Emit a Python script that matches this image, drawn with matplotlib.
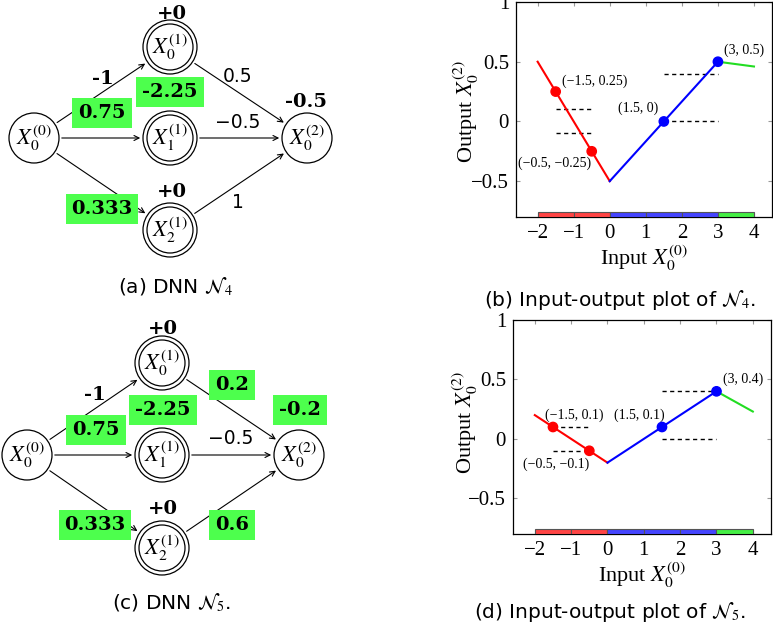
import numpy as np
import matplotlib
matplotlib.use("Agg")
import matplotlib.pyplot as plt
from matplotlib.patches import Circle, FancyArrowPatch

plt.rcParams["mathtext.fontset"] = "stix"

# ---- network N4 / N5 labels ----
node_names = [r"$X_0^{(0)}$", r"$X_0^{(1)}$", r"$X_1^{(1)}$", r"$X_2^{(1)}$", r"$X_0^{(2)}$"]
in_weights = ["-1", "", ""]            # bold weights on input edges
in_biases_n4 = ["0.75", "-2.25", "0.333"]  # green boxes (changed values)
hidden_bias = ["+0", "", "+0"]
out_weights_n4 = ["0.5", "\u22120.5", "1"]
out_bias_n4 = "-0.5"
out_weights_n5 = ["0.2", "\u22120.5", "0.6"]
out_bias_n5 = "-0.2"

# ---- input-output plots ----
seg_x = [[-2, 0], [0, 3], [3, 4]]
seg_colors = ["red", "blue", "#22dd22"]
n4_seg_y = [[0.5, -0.5], [-0.5, 0.5], [0.5, 0.46]]
n5_seg_y = [[0.2, -0.2], [-0.2, 0.4], [0.4, 0.23]]

n4_pts_x = [-1.5, -0.5, 1.5, 3]
n4_pts_y = [0.25, -0.25, 0, 0.5]
n4_pts_c = ["red", "red", "blue", "blue"]
n4_pt_labels = ["(\u22121.5, 0.25)", "(\u22120.5, \u22120.25)", "(1.5, 0)", "(3, 0.5)"]
n4_lbl_pos = [(-0.42, 0.34), (-1.53, -0.35), (0.78, 0.11), (3.72, 0.6)]

n5_pts_x = [-1.5, -0.5, 1.5, 3]
n5_pts_y = [0.1, -0.1, 0.1, 0.4]
n5_pts_c = ["red", "red", "blue", "blue"]
n5_pt_labels = ["(\u22121.5, 0.1)", "(\u22120.5, \u22120.1)", "(1.5, 0.1)", "(3, 0.4)"]
n5_lbl_pos = [(-0.92, 0.2), (-1.42, -0.21), (0.87, 0.2), (3.74, 0.5)]

# dashed bounds: (y, xmin, xmax)
n4_dash = [(0.1, -1.5, -0.5), (-0.1, -1.5, -0.5), (0, 1.5, 3), (0.4, 1.5, 3)]
n5_dash = [(0.1, -1.5, -0.5), (-0.1, -1.5, -0.5), (0.4, 1.5, 3), (0, 1.5, 3)]

bar_left = [-2, -1, 0, 1, 2, 3]
bar_colors = ["#ff4444", "#ff4444", "#4444ff", "#4444ff", "#4444ff", "#44ee44"]

GREEN = "#4dff4d"

fig = plt.figure(figsize=(7.73, 6.25), dpi=100)
dg = fig.add_axes([0, 0, 1, 1])
dg.set_xlim(0, 773)
dg.set_ylim(625, 0)
dg.axis("off")


def draw_net(nodes):
    r = 25
    for i, (cx, cy) in enumerate(nodes):
        dg.add_patch(Circle((cx, cy), r + 2 if i in (1, 2, 3) else r,
                            fill=False, lw=0.9, color="black"))
        if i in (1, 2, 3):
            dg.add_patch(Circle((cx, cy), r - 2, fill=False, lw=0.9, color="black"))
        dg.text(cx, cy, node_names[i], ha="center", va="center", fontsize=16)
    edges = [(0, 1), (0, 2), (0, 3), (1, 4), (2, 4), (3, 4)]
    for a, b in edges:
        (x1, y1), (x2, y2) = nodes[a], nodes[b]
        d = np.hypot(x2 - x1, y2 - y1)
        ux, uy = (x2 - x1) / d, (y2 - y1) / d
        ra = r + 2 if a in (1, 2, 3) else r
        rb = r + 2 if b in (1, 2, 3) else r
        dg.add_patch(FancyArrowPatch((x1 + ux * ra, y1 + uy * ra),
                                     (x2 - ux * rb, y2 - uy * rb),
                                     arrowstyle="->", mutation_scale=9,
                                     lw=0.8, color="black"))


def bold(x, y, s, box=False):
    kw = dict(ha="center", va="center", fontsize=14, fontweight="bold",
              family="DejaVu Serif")
    if box:
        kw["bbox"] = dict(boxstyle="square,pad=0.3", fc=GREEN, ec="none")
    dg.text(x, y, s, **kw)


def plain(x, y, s):
    dg.text(x, y, s, ha="center", va="center", fontsize=13.5, family="DejaVu Sans")


# (a) N4
nodes_a = [(34, 138), (170, 47), (170, 138), (170, 230), (307, 138)]
draw_net(nodes_a)
bold(172, 14, hidden_bias[0])
bold(103, 79, in_weights[0])
bold(102, 113, in_biases_n4[0], True)
bold(170, 92, in_biases_n4[1], True)
bold(102, 209, in_biases_n4[2], True)
bold(172, 192, hidden_bias[2])
bold(306, 102, out_bias_n4)
plain(238, 77, out_weights_n4[0])
plain(238, 122, out_weights_n4[1])
plain(238, 202, out_weights_n4[2])
dg.text(175, 287, r"(a) DNN $\mathcal{N}_4$", ha="center", va="center",
        fontsize=14.5, family="DejaVu Sans")

# (c) N5
nodes_c = [(27, 455), (162, 363), (162, 455), (162, 548), (299, 455)]
draw_net(nodes_c)
bold(163, 329, hidden_bias[0])
bold(95, 395, in_weights[0])
bold(96, 430, in_biases_n4[0], True)
bold(163, 410, in_biases_n4[1], True)
bold(95, 525, in_biases_n4[2], True)
bold(163, 509, hidden_bias[2])
bold(232, 385, out_weights_n5[0], True)
bold(300, 410, out_bias_n5, True)
bold(232, 525, out_weights_n5[2], True)
plain(231, 439, out_weights_n5[1])
dg.text(171, 603, r"(c) DNN $\mathcal{N}_5$.", ha="center", va="center",
        fontsize=14.5, family="DejaVu Sans")


def io_plot(rect, seg_y, px, py, pc, plabels, lpos, dashes, caption, cap_xy, ylab_xy):
    ax = fig.add_axes(rect)
    for xs, ys, c in zip(seg_x, seg_y, seg_colors):
        ax.plot(xs, ys, color=c, lw=1.5, zorder=3)
    for (y, x0, x1) in dashes:
        ax.hlines(y, x0, x1, colors="black", linestyles=(0, (3, 2.5)), lw=1, zorder=2)
    ax.scatter(px, py, c=pc, s=45, zorder=4)
    for s, (lx, ly) in zip(plabels, lpos):
        ax.text(lx, ly, s, ha="center", va="center", fontsize=10,
                family="Liberation Serif")
    ax.bar(bar_left, 0.04, width=1, bottom=-0.8, align="edge",
           color=bar_colors, edgecolor="#555555", lw=0.8, zorder=5)
    ax.set_xlim(-2.6, 4.5)
    ax.set_ylim(-0.8, 1.0)
    ax.set_xticks(range(-2, 5))
    ax.set_yticks([-0.5, 0, 0.5, 1])
    ax.set_yticklabels(["\u22120.5", "0", "0.5", "1"])
    ax.tick_params(direction="in", length=3, color="#999999", top=True, right=True,
                   labelsize=15, pad=5)
    for lab in ax.get_xticklabels() + ax.get_yticklabels():
        lab.set_family("Liberation Serif")
    for sp in ax.spines.values():
        sp.set_linewidth(0.9)
    ax.set_xlabel(r"Input $X_0^{(0)}$", family="Liberation Serif", fontsize=16,
                  labelpad=0)
    ax.set_ylabel(r"Output $X_0^{(2)}$", family="Liberation Serif", fontsize=16)
    ax.yaxis.set_label_coords(*ylab_xy)
    fig.text(cap_xy[0], cap_xy[1], caption, ha="center", va="center",
             fontsize=14.5, family="DejaVu Sans")
    return ax


io_plot([516 / 773, 1 - 217 / 625, 256 / 773, 215 / 625], n4_seg_y,
        n4_pts_x, n4_pts_y, n4_pts_c, n4_pt_labels, n4_lbl_pos, n4_dash,
        r"(b) Input-output plot of $\mathcal{N}_4$.", (620 / 773, 1 - 300 / 625),
        (-0.135, 0.49))
io_plot([513 / 773, 1 - 534 / 625, 258 / 773, 214 / 625], n5_seg_y,
        n5_pts_x, n5_pts_y, n5_pts_c, n5_pt_labels, n5_lbl_pos, n5_dash,
        r"(d) Input-output plot of $\mathcal{N}_5$.", (610 / 773, 1 - 612 / 625),
        (-0.128, 0.52))

fig.savefig("out.png", dpi=100)
